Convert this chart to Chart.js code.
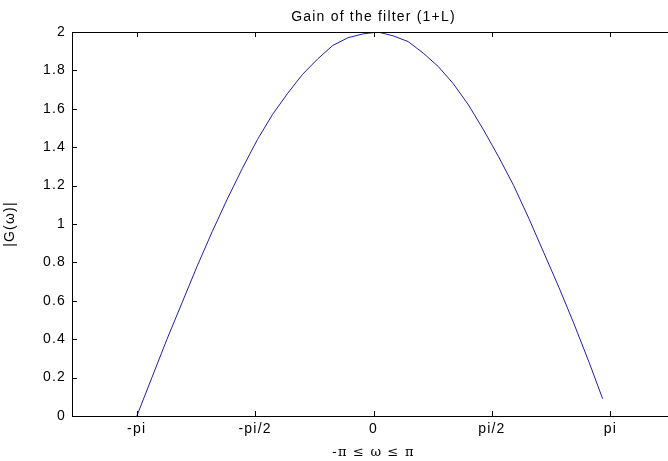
<!DOCTYPE html>
<html lang="en">
<head>
    <meta charset="UTF-8">
    <title>Gain of the filter (1+L)</title>
    <script src="https://cdn.jsdelivr.net/npm/chart.js"></script>
    <style>
        html, body {
            margin: 0;
            padding: 0;
            background: #fff;
            overflow: hidden;
        }
        .wrap {
            position: absolute;
            left: 0;
            top: 0;
            width: 700px;
            height: 461px;
        }
    </style>
</head>
<body>
<div class="wrap">
    <canvas id="gainChart" width="700" height="461"></canvas>
</div>

<script>
    // frequency samples (rad) and gain
    const omega = [-3.14, -2.94, -2.74, -2.54, -2.34, -2.14, -1.94, -1.74, -1.54, -1.34,
        -1.14, -0.94, -0.74, -0.54, -0.34, -0.14, 0.06, 0.26, 0.46, 0.66,
        0.86, 1.06, 1.26, 1.46, 1.66, 1.86, 2.06, 2.26, 2.46, 2.66, 2.86, 3.04];
    const gain = [0.00, 0.20, 0.40, 0.59, 0.78, 0.96, 1.13, 1.29, 1.44, 1.57,
        1.68, 1.78, 1.86, 1.93, 1.97, 1.99, 2.00, 1.98, 1.95, 1.89,
        1.82, 1.73, 1.62, 1.49, 1.35, 1.20, 1.03, 0.85, 0.67, 0.48, 0.28, 0.09];

    const xTickValues = [-Math.PI, -Math.PI / 2, 0, Math.PI / 2, Math.PI];
    const xTickLabels = ['-pi', '-pi/2', '0', 'pi/2', 'pi'];
    const yTickValues = [0, 0.2, 0.4, 0.6, 0.8, 1, 1.2, 1.4, 1.6, 1.8, 2];

    const fontFamily = '"Liberation Sans", Arial, sans-serif';
    const font = { family: fontFamily, size: 14 };
    const tickLen = 5;

    // MATLAB style box: top edge plus inward tick marks, and the title
    const boxPlugin = {
        id: 'matlabBox',
        beforeDraw(chart) {
            chart.ctx.letterSpacing = '1.2px';
        },
        afterDraw(chart) {
            const ctx = chart.ctx;
            const area = chart.chartArea;
            const xs = chart.scales.x;
            const ys = chart.scales.y;
            const top = Math.round(area.top);
            const bottom = Math.round(area.bottom);
            const left = Math.round(area.left);
            ctx.save();
            ctx.fillStyle = '#000';
            ctx.fillRect(left, top, Math.ceil(area.right - left), 1);
            xTickValues.forEach(v => {
                const px = Math.round(xs.getPixelForValue(v));
                ctx.fillRect(px, bottom - tickLen, 1, tickLen);
                ctx.fillRect(px, top, 1, tickLen);
            });
            yTickValues.forEach(v => {
                const py = Math.round(ys.getPixelForValue(v));
                ctx.fillRect(left, py, tickLen, 1);
            });

            ctx.font = '14px ' + fontFamily;
            ctx.letterSpacing = '1.2px';
            ctx.textAlign = 'center';
            ctx.textBaseline = 'middle';
            ctx.fillText('Gain of the filter (1+L)', (area.left + area.right) / 2, 17);
            ctx.restore();
        }
    };

    const chartConfig = {
        type: 'line',
        data: {
            datasets: [{
                data: omega.map((w, i) => ({ x: w, y: gain[i] })),
                borderColor: '#1f1fb0',
                borderWidth: 1,
                pointRadius: 0,
                tension: 0,
                fill: false
            }]
        },
        options: {
            responsive: false,
            animation: false,
            layout: { padding: { top: 32, right: 25, left: 0, bottom: 0 } },
            plugins: {
                legend: { display: false },
                tooltip: { enabled: false }
            },
            scales: {
                x: {
                    type: 'linear',
                    min: -4,
                    max: 4,
                    afterBuildTicks: scale => {
                        scale.ticks = xTickValues.map(v => ({ value: v }));
                    },
                    afterFit: scale => { scale.height = 45; },
                    grid: { display: false, drawTicks: false },
                    border: { display: true, color: '#000', width: 1 },
                    ticks: {
                        color: '#000',
                        font: font,
                        padding: 5,
                        autoSkip: false,
                        maxRotation: 0,
                        callback: (v, i) => xTickLabels[i]
                    },
                    title: {
                        display: true,
                        text: '-\u03c0 \u2264 \u03c9 \u2264 \u03c0',
                        color: '#000',
                        font: { family: '"DejaVu Serif", "Liberation Serif", serif', size: 13 },
                        padding: { top: 0, bottom: 1 }
                    }
                },
                y: {
                    min: 0,
                    max: 2,
                    afterFit: scale => { scale.width = 72; },
                    grid: { display: false, drawTicks: false },
                    border: { display: true, color: '#000', width: 1 },
                    ticks: {
                        stepSize: 0.2,
                        color: '#000',
                        font: font,
                        padding: 6,
                        callback: v => String(+v.toFixed(1))
                    },
                    title: {
                        display: true,
                        text: '|G(\u03c9)|',
                        color: '#000',
                        font: font,
                        padding: { top: 2, bottom: 0 }
                    }
                }
            }
        },
        plugins: [boxPlugin]
    };

    const gainChart = new Chart(document.getElementById('gainChart').getContext('2d'), chartConfig);
</script>

</body>
</html>
